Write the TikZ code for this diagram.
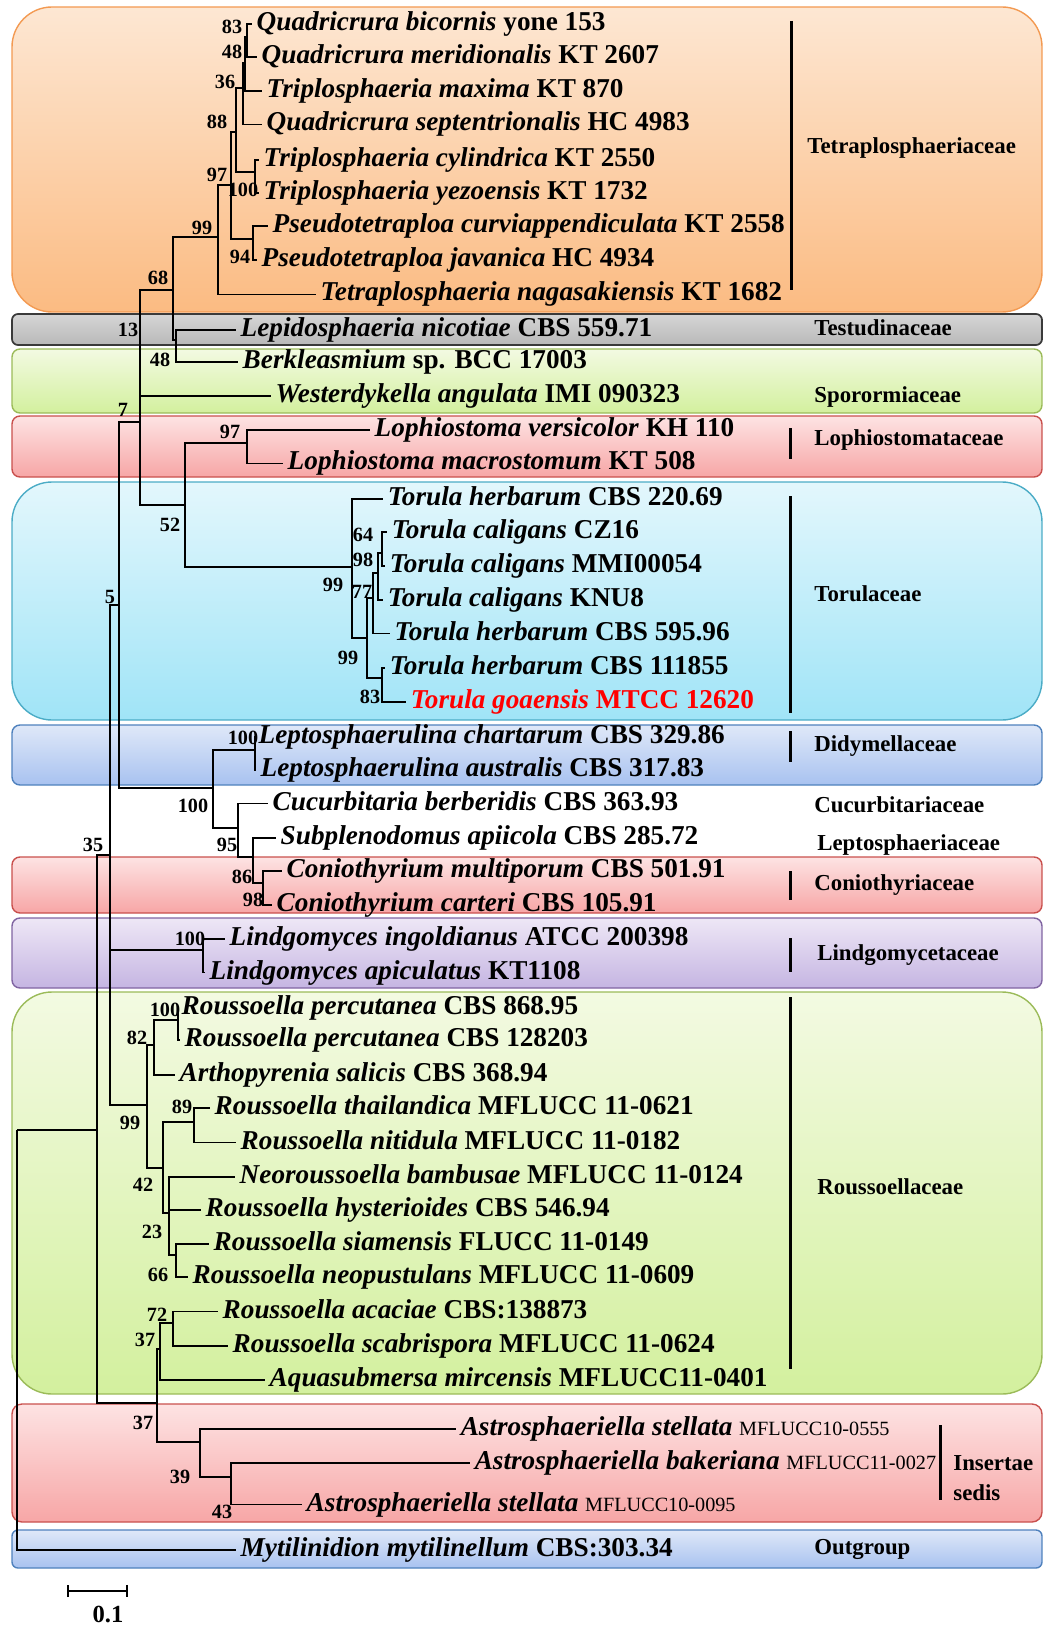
\documentclass[tikz,border=0pt]{standalone}
\usepackage{fontspec}
\setmainfont{Liberation Serif}
\usepackage{xcolor}
\usepackage{tikz}
\usetikzlibrary{arrows.meta}

\definecolor{orgtop}{HTML}{FDE7D3}
\definecolor{orgbot}{HTML}{FBBB82}
\definecolor{orgline}{HTML}{F39A52}
\definecolor{grytop}{HTML}{D6D6D6}
\definecolor{grybot}{HTML}{B8B8B8}
\definecolor{gryline}{HTML}{3A3A3A}
\definecolor{grntop}{HTML}{F3FAE2}
\definecolor{grnbot}{HTML}{D3F09E}
\definecolor{grnline}{HTML}{9BBB59}
\definecolor{redtop}{HTML}{FDE3E3}
\definecolor{redbot}{HTML}{F7A6A6}
\definecolor{redline}{HTML}{C9504D}
\definecolor{cyntop}{HTML}{E3F7FC}
\definecolor{cynbot}{HTML}{A0E4F7}
\definecolor{cynline}{HTML}{4BACC6}
\definecolor{blutop}{HTML}{DFE8F8}
\definecolor{blubot}{HTML}{A8C2F0}
\definecolor{bluline}{HTML}{4F81BD}
\definecolor{purtop}{HTML}{EEE7F6}
\definecolor{purbot}{HTML}{C5B5E2}
\definecolor{purline}{HTML}{8064A2}

\newcommand{\taxon}[2]{\textit{#1} #2}
\newcommand{\smallcode}[1]{{\fontsize{11.5}{12}\selectfont\mdseries #1}}

\tikzset{
  tx/.style={anchor=west, inner xsep=2.5pt, inner ysep=0pt, text height=11pt, text depth=3.5pt,
             font=\fontsize{15.5}{18}\selectfont\bfseries},
  bs/.style={inner sep=0pt, font=\fontsize{11.5}{13}\selectfont\bfseries},
  fam/.style={anchor=west, inner sep=0pt, font=\fontsize{13}{15}\selectfont\bfseries},
  br/.style={line width=1pt},
  famline/.style={line width=1.7pt},
}

\begin{document}
\begin{tikzpicture}[x=0.02cm,y=-0.02cm]
\useasboundingbox (0,0) rectangle (1043,1625);
% family boxes
\draw[orgline, line width=0.8pt, top color=orgtop, bottom color=orgbot, rounded corners=0.8cm] (12,7) rectangle (1042,312);
\draw[gryline, line width=1pt, top color=grytop, middle color=white, bottom color=grybot, rounded corners=0.12cm] (12,314) rectangle (1042,345);
\draw[grnline, line width=0.8pt, top color=grntop, bottom color=grnbot, rounded corners=0.16cm] (12,349) rectangle (1042,413);
\draw[redline, line width=0.8pt, top color=redtop, bottom color=redbot, rounded corners=0.16cm] (12,416) rectangle (1042,477);
\draw[cynline, line width=0.8pt, top color=cyntop, bottom color=cynbot, rounded corners=0.8cm] (12,482) rectangle (1042,720);
\draw[bluline, line width=0.8pt, top color=blutop, bottom color=blubot, rounded corners=0.16cm] (12,725) rectangle (1042,785);
\draw[redline, line width=0.8pt, top color=redtop, bottom color=redbot, rounded corners=0.16cm] (12,857) rectangle (1042,913);
\draw[purline, line width=0.8pt, top color=purtop, bottom color=purbot, rounded corners=0.16cm] (12,918) rectangle (1042,988);
\draw[grnline, line width=0.8pt, top color=grntop, bottom color=grnbot, rounded corners=0.8cm] (12,992) rectangle (1042,1394);
\draw[redline, line width=0.8pt, top color=redtop, bottom color=redbot, rounded corners=0.2cm] (12,1404) rectangle (1042,1522);
\draw[bluline, line width=0.8pt, top color=blutop, bottom color=blubot, rounded corners=0.12cm] (12,1530) rectangle (1042,1568);

% taxa
\node[tx] at (252,23.8) (1) {\taxon{Quadricrura bicornis}{yone 153}};
\node[tx] at (257,57.0) (2) {\taxon{Quadricrura meridionalis}{KT 2607}};
\node[tx] at (262,91.2) (3) {\taxon{Triplosphaeria maxima}{KT 870}};
\node[tx] at (262,124.4) (4) {\taxon{Quadricrura septentrionalis}{HC 4983}};
\node[tx] at (259,159.7) (5) {\taxon{Triplosphaeria cylindrica}{KT 2550}};
\node[tx] at (259,192.8) (6) {\taxon{Triplosphaeria yezoensis}{KT 1732}};
\node[tx] at (268,226.0) (7) {\taxon{Pseudotetraploa curviappendiculata}{KT 2558}};
\node[tx] at (257,260.2) (8) {\taxon{Pseudotetraploa javanica}{HC 4934}};
\node[tx] at (316,294.4) (9) {\taxon{Tetraplosphaeria nagasakiensis}{KT 1682}};
\node[tx] at (236,329.7) (10) {\taxon{Lepidosphaeria nicotiae}{CBS 559.71}};
\node[tx] at (238,361.8) (11) {\taxon{Berkleasmium}{sp. BCC 17003}};
\node[tx] at (271,396.1) (12) {\taxon{Westerdykella angulata}{IMI 090323}};
\node[tx] at (370,430.3) (13) {\taxon{Lophiostoma versicolor}{KH 110}};
\node[tx] at (283,463.4) (14) {\taxon{Lophiostoma macrostomum}{KT 508}};
\node[tx] at (383,498.7) (15) {\taxon{Torula herbarum}{CBS 220.69}};
\node[tx] at (387,531.9) (16) {\taxon{Torula caligans}{CZ16}};
\node[tx] at (385,566.1) (17) {\taxon{Torula caligans}{MMI00054}};
\node[tx] at (383,600.3) (18) {\taxon{Torula caligans}{KNU8}};
\node[tx] at (390,633.5) (19) {\taxon{Torula herbarum}{CBS 595.96}};
\node[tx] at (385,667.7) (20) {\taxon{Torula herbarum}{CBS 111855}};
\node[tx, text=red] at (406,701.9) (21) {\taxon{Torula goaensis}{MTCC 12620}};
\node[tx] at (254,737.2) (22) {\taxon{Leptosphaerulina chartarum}{CBS 329.86}};
\node[tx] at (256,770.3) (23) {\taxon{Leptosphaerulina australis}{CBS 317.83}};
\node[tx] at (268,803.5) (24) {\taxon{Cucurbitaria berberidis}{CBS 363.93}};
\node[tx] at (276,837.7) (25) {\taxon{Subplenodomus apiicola}{CBS 285.72}};
\node[tx] at (282,870.9) (26) {\taxon{Coniothyrium multiporum}{CBS 501.91}};
\node[tx] at (272,905.1) (27) {\taxon{Coniothyrium carteri}{CBS 105.91}};
\node[tx] at (225,939.3) (28) {\taxon{Lindgomyces ingoldianus}{ATCC 200398}};
\node[tx] at (205,972.5) (29) {\taxon{Lindgomyces apiculatus}{KT1108}};
\node[tx] at (177,1007.8) (30) {\taxon{Roussoella percutanea}{CBS 868.95}};
\node[tx] at (180,1039.9) (31) {\taxon{Roussoella percutanea}{CBS 128203}};
\node[tx] at (175,1075.2) (32) {\taxon{Arthopyrenia salicis}{CBS 368.94}};
\node[tx] at (210,1108.3) (33) {\taxon{Roussoella thailandica}{MFLUCC 11-0621}};
\node[tx] at (236,1142.5) (34) {\taxon{Roussoella nitidula}{MFLUCC 11-0182}};
\node[tx] at (235,1176.8) (35) {\taxon{Neoroussoella bambusae}{MFLUCC 11-0124}};
\node[tx] at (201,1210.0) (36) {\taxon{Roussoella hysterioides}{CBS 546.94}};
\node[tx] at (209,1244.2) (37) {\taxon{Roussoella siamensis}{FLUCC 11-0149}};
\node[tx] at (188,1277.3) (38) {\taxon{Roussoella neopustulans}{MFLUCC 11-0609}};
\node[tx] at (218,1311.5) (39) {\taxon{Roussoella acaciae}{CBS:138873}};
\node[tx] at (228,1345.8) (40) {\taxon{Roussoella scabrispora}{MFLUCC 11-0624}};
\node[tx] at (265,1380.0) (41) {\taxon{Aquasubmersa mircensis}{MFLUCC11-0401}};
\node[tx] at (456,1428.7) (42) {\taxon{Astrosphaeriella stellata}{\smallcode{MFLUCC10-0555}}};
\node[tx] at (470,1462.9) (43) {\taxon{Astrosphaeriella bakeriana}{\smallcode{MFLUCC11-0027}}};
\node[tx] at (302,1504.4) (44) {\taxon{Astrosphaeriella stellata}{\smallcode{MFLUCC10-0095}}};
\node[tx] at (236,1550.0) (45) {\taxon{Mytilinidion mytilinellum}{CBS:303.34}};

% internal nodes
\coordinate (r) at (17,1130);
\coordinate (c35) at (97,1130);
\coordinate (c5) at (110,855);
\coordinate (c7) at (119,605);
\coordinate (c13) at (140,422);
\coordinate (c68) at (173,290);
\coordinate (c48) at (176,340);
\coordinate (c99) at (218,237);
\coordinate (c97) at (231,185);
\coordinate (c88) at (236,132);
\coordinate (c36) at (243,88);
\coordinate (c48a) at (245,63);
\coordinate (c83) at (247,37);
\coordinate (c100a) at (255,172);
\coordinate (c94) at (253,239);
\coordinate (c52) at (185,505);
\coordinate (c97b) at (247,443);
\coordinate (c99b) at (352,567);
\coordinate (c99c) at (367,638);
\coordinate (c77) at (373,598);
\coordinate (c98) at (378,573);
\coordinate (c64) at (382,553);
\coordinate (c83b) at (382,678);
\coordinate (cD100) at (213,788);
\coordinate (c100b) at (255,750);
\coordinate (c95) at (238,828);
\coordinate (c86) at (253,857);
\coordinate (c98b) at (263,883);
\coordinate (cL) at (203,950);
\coordinate (cR99) at (147,1105);
\coordinate (c82) at (154,1045);
\coordinate (c100c) at (178,1020);
\coordinate (c42) at (163,1168);
\coordinate (c89) at (194,1122);
\coordinate (c23) at (169,1213);
\coordinate (c66) at (176,1255);
\coordinate (c37b) at (157,1403);
\coordinate (c37a) at (160,1349);
\coordinate (c72) at (173,1323);
\coordinate (c39) at (200,1442);
\coordinate (c43) at (231,1477);

% branches
\draw[br] (r) -- (c35) (r) |- (45.west);
\draw[br] (c35) |- (c5) (c35) |- (c37b);
\draw[br] (c5) |- (c7) (c5) |- (cL) (c5) |- (cR99);
\draw[br] (c7) |- (c13) (c7) |- (cD100);
\draw[br] (c13) |- (c68) (c13) |- (12.west) (c13) |- (c52);
\draw[br] (c68) |- (c99) (c68) |- (c48);
\draw[br] (c48) |- (10.west) (c48) |- (11.west);
\draw[br] (c99) |- (c97) (c99) |- (9.west);
\draw[br] (c97) |- (c88) (c97) |- (c94);
\draw[br] (c88) |- (c36) (c88) |- (c100a);
\draw[br] (c36) |- (c48a) (c36) |- (4.west);
\draw[br] (c48a) |- (c83) (c48a) |- (3.west);
\draw[br] (c83) |- (1.west) (c83) |- (2.west);
\draw[br] (c100a) |- (5.west) (c100a) |- (6.west);
\draw[br] (c94) |- (7.west) (c94) |- (8.west);
\draw[br] (c52) |- (c97b) (c52) |- (c99b);
\draw[br] (c97b) |- (13.west) (c97b) |- (14.west);
\draw[br] (c99b) |- (15.west) (c99b) |- (c99c);
\draw[br] (c99c) |- (c77) (c99c) |- (c83b);
\draw[br] (c77) |- (c98) (c77) |- (19.west);
\draw[br] (c98) |- (c64) (c98) |- (18.west);
\draw[br] (c64) |- (16.west) (c64) |- (17.west);
\draw[br] (c83b) |- (20.west) (c83b) |- (21.west);
\draw[br] (cD100) |- (c100b) (cD100) |- (c95);
\draw[br] (c100b) |- (22.west) (c100b) |- (23.west);
\draw[br] (c95) |- (24.west) (c95) |- (c86);
\draw[br] (c86) |- (25.west) (c86) |- (c98b);
\draw[br] (c98b) |- (26.west) (c98b) |- (27.west);
\draw[br] (cL) |- (28.west) (cL) |- (29.west);
\draw[br] (cR99) |- (c82) (cR99) |- (c42);
\draw[br] (c82) |- (c100c) (c82) |- (32.west);
\draw[br] (c100c) |- (30.west) (c100c) |- (31.west);
\draw[br] (c42) |- (c89) (c42) |- (c23);
\draw[br] (c89) |- (33.west) (c89) |- (34.west);
\draw[br] (c23) |- (35.west) (c23) |- (36.west) (c23) |- (c66);
\draw[br] (c66) |- (37.west) (c66) |- (38.west);
\draw[br] (c37b) |- (c37a) (c37b) |- (c39);
\draw[br] (c37a) |- (c72) (c37a) |- (41.west);
\draw[br] (c72) |- (39.west) (c72) |- (40.west);
\draw[br] (c39) |- (42.west) (c39) |- (c43);
\draw[br] (c43) |- (43.west) (c43) |- (44.west);

% bootstrap values
\node[bs] at (232,27) (b1) {83};
\node[bs] at (232,52) (b2) {48};
\node[bs] at (225,82) (b3) {36};
\node[bs] at (217,122) (b4) {88};
\node[bs] at (217,175) (b5) {97};
\node[bs] at (243,190) (b6) {100};
\node[bs] at (202,228) (b7) {99};
\node[bs] at (240,257) (b8) {94};
\node[bs] at (158,278) (b9) {68};
\node[bs] at (128,330) (b10) {13};
\node[bs] at (160,360) (b11) {48};
\node[bs] at (123,410) (b12) {7};
\node[bs] at (230,432) (b13) {97};
\node[bs] at (170,525) (b14) {52};
\node[bs] at (363,535) (b15) {64};
\node[bs] at (363,560) (b16) {98};
\node[bs] at (333,585) (b17) {99};
\node[bs] at (362,592) (b18) {77};
\node[bs] at (348,658) (b19) {99};
\node[bs] at (370,697) (b20) {83};
\node[bs] at (110,597) (b21) {5};
\node[bs] at (243,738) (b22) {100};
\node[bs] at (193,806) (b23) {100};
\node[bs] at (227,845) (b24) {95};
\node[bs] at (242,877) (b25) {86};
\node[bs] at (253,900) (b26) {98};
\node[bs] at (93,845) (b27) {35};
\node[bs] at (190,939) (b28) {100};
\node[bs] at (165,1010) (b29) {100};
\node[bs] at (137,1038) (b30) {82};
\node[bs] at (182,1107) (b31) {89};
\node[bs] at (130,1123) (b32) {99};
\node[bs] at (143,1185) (b33) {42};
\node[bs] at (152,1232) (b34) {23};
\node[bs] at (158,1275) (b35) {66};
\node[bs] at (157,1315) (b36) {72};
\node[bs] at (145,1340) (b37) {37};
\node[bs] at (143,1423) (b38) {37};
\node[bs] at (180,1477) (b39) {39};
\node[bs] at (222,1512) (b40) {43};

% families
\draw[famline] (791,21) -- (791,290);
\draw[famline] (790,428) -- (790,459);
\draw[famline] (790,496) -- (790,713);
\draw[famline] (790,731) -- (790,762);
\draw[famline] (790,871) -- (790,900);
\draw[famline] (790,938) -- (790,972);
\draw[famline] (790,997) -- (790,1369);
\draw[famline] (940,1425) -- (940,1500);
\node[fam] at (807,148) (f1) {Tetraplosphaeriaceae};
\node[fam] at (814,328) (f2) {Testudinaceae};
\node[fam] at (814,397) (f3) {Sporormiaceae};
\node[fam] at (814,440) (f4) {Lophiostomataceae};
\node[fam] at (814,594) (f5) {Torulaceae};
\node[fam] at (814,746) (f6) {Didymellaceae};
\node[fam] at (814,805) (f7) {Cucurbitariaceae};
\node[fam] at (817,845) (f8) {Leptosphaeriaceae};
\node[fam] at (814,885) (f9) {Coniothyriaceae};
\node[fam] at (817,955) (f10) {Lindgomycetaceae};
\node[fam] at (817,1187) (f11) {Roussoellaceae};
\node[fam] at (953,1463) (f12) {Insertae};
\node[fam] at (953,1493) (f13) {sedis};
\node[fam] at (814,1549) (f14) {Outgroup};

% scale bar
\coordinate (s1) at (67,1591);
\coordinate (s2) at (128,1591);
\draw[br, {Bar[width=7pt]}-{Bar[width=7pt]}] (s1) -- (s2);
\node[bs, font=\fontsize{14}{16}\selectfont\bfseries] at (108,1614) (s3) {0.1};
\end{tikzpicture}
\end{document}
